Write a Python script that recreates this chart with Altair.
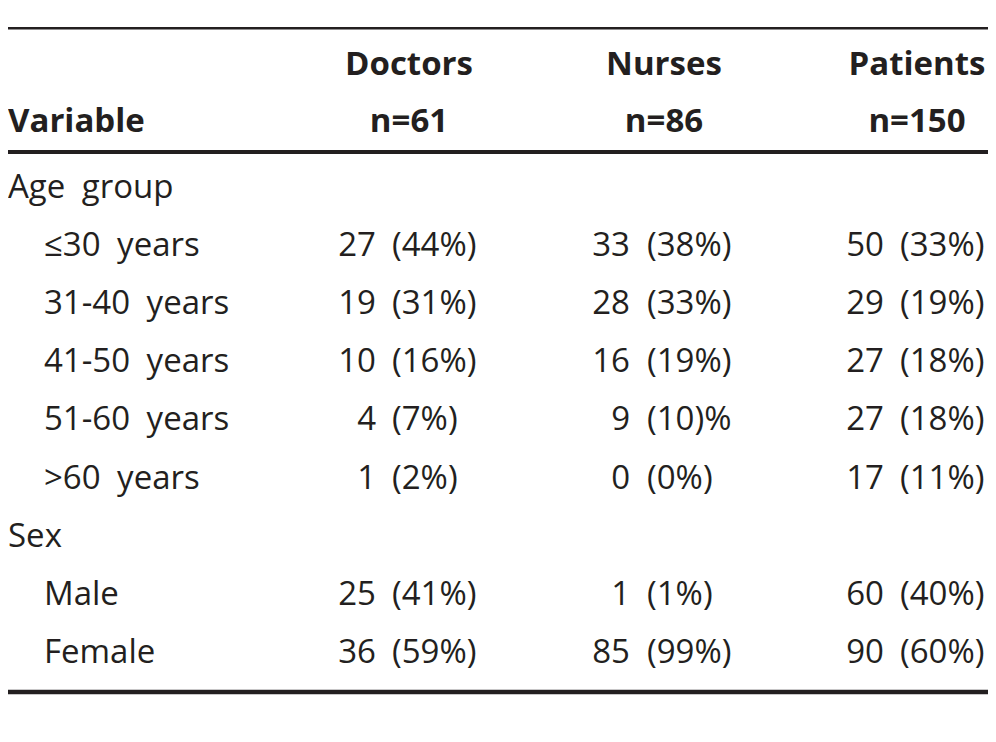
import altair as alt
import pandas as pd

# ---------------- data ----------------
variables = ["Age\u2002group", "\u226430\u2002years", "31-40\u2002years", "41-50\u2002years",
             "51-60\u2002years", ">60\u2002years", "Sex", "Male", "Female"]
is_group = [True, False, False, False, False, False, True, False, False]
groups = ["Doctors", "Nurses", "Patients"]
group_n = ["n=61", "n=86", "n=150"]
doctors_count = ["", "27", "19", "10", "4", "1", "", "25", "36"]
doctors_pct = ["", "(44%)", "(31%)", "(16%)", "(7%)", "(2%)", "", "(41%)", "(59%)"]
nurses_count = ["", "33", "28", "16", "9", "0", "", "1", "85"]
nurses_pct = ["", "(38%)", "(33%)", "(19%)", "(10)%", "(0%)", "", "(1%)", "(99%)"]
patients_count = ["", "50", "29", "27", "27", "17", "", "60", "90"]
patients_pct = ["", "(33%)", "(19%)", "(18%)", "(18%)", "(11%)", "", "(40%)", "(60%)"]

# ---------------- layout (not data) ----------------
W, H = 980, 726
FONT = "Open Sans"
FS = 33
INK = "#231f20"
ROW0, ROW_STEP = 190, 58.1
HEAD1_Y, HEAD2_Y = 67, 124
INDENT = 36
header_center = [401, 656, 909]
count_right = [368, 622, 876]
pct_left = [384, 639, 892]

counts = [doctors_count, nurses_count, patients_count]
pcts = [doctors_pct, nurses_pct, patients_pct]

xs = alt.Scale(domain=[0, W])
ys = alt.Scale(domain=[H, 0])

# label table
lab = pd.DataFrame({
    "text": variables,
    "x": [0 if g else INDENT for g in is_group],
    "y": [ROW0 + ROW_STEP * i for i in range(len(variables))],
})

cnt_rows, pct_rows = [], []
for c in range(3):
    for i in range(len(variables)):
        if counts[c][i]:
            cnt_rows.append({"text": counts[c][i], "x": count_right[c], "y": ROW0 + ROW_STEP * i})
            pct_rows.append({"text": pcts[c][i], "x": pct_left[c], "y": ROW0 + ROW_STEP * i})
cnt = pd.DataFrame(cnt_rows)
pct = pd.DataFrame(pct_rows)

head = pd.DataFrame({
    "text": groups + group_n,
    "x": header_center + header_center,
    "y": [HEAD1_Y] * 3 + [HEAD2_Y] * 3,
})
var_head = pd.DataFrame({"text": ["Variable"], "x": [0], "y": [HEAD2_Y]})

rules = pd.DataFrame({
    "x": [0, 0, 0], "x2": [W, W, W],
    "y": [20.3, 144, 684],
    "w": [2.5, 4, 4.5],
})


def text_layer(df, align, bold=False):
    return alt.Chart(df).mark_text(
        align=align, baseline="alphabetic", font=FONT, fontSize=FS,
        fontWeight="bold" if bold else "normal", color=INK,
    ).encode(
        x=alt.X("x:Q", scale=xs, axis=None),
        y=alt.Y("y:Q", scale=ys, axis=None),
        text="text:N",
    )


rule_layer = alt.Chart(rules).mark_rule(color=INK).encode(
    x=alt.X("x:Q", scale=xs, axis=None),
    x2="x2:Q",
    y=alt.Y("y:Q", scale=ys, axis=None),
    strokeWidth=alt.StrokeWidth("w:Q", scale=None, legend=None),
)

chart = alt.layer(
    rule_layer,
    text_layer(lab, "left"),
    text_layer(cnt, "right"),
    text_layer(pct, "left"),
    text_layer(head, "center", bold=True),
    text_layer(var_head, "left", bold=True),
).properties(
    width=W, height=H, padding=0, autosize=alt.AutoSizeParams(type="none"),
    background="white",
).configure_view(stroke=None)

chart.save("out.html", embed_options={"renderer": "svg", "actions": False})
